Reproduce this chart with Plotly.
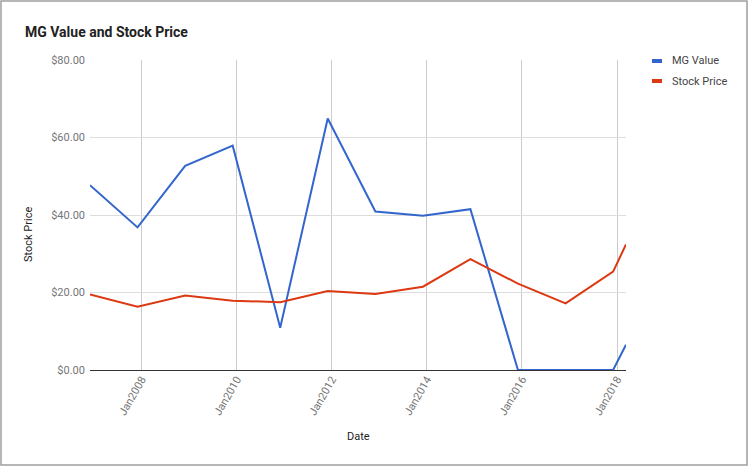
import plotly.graph_objects as go

dates = ["2006-12-01", "2007-12-01", "2008-12-01", "2009-12-01", "2010-12-01",
         "2011-12-01", "2012-12-01", "2013-12-01", "2014-12-01", "2015-12-01",
         "2016-12-01", "2017-12-01", "2018-03-10"]
mg_value = [47.7, 36.8, 52.7, 57.9, 10.9, 64.9, 40.9, 39.8, 41.5, 0, 0, 0, 6.5]
stock_price = [19.5, 16.3, 19.2, 17.9, 17.5, 20.4, 19.6, 21.5, 28.6, 22.3, 17.2, 25.4, 32.4]
series_names = ["MG Value", "Stock Price"]
colors = ["#3366cc", "#dc3912"]
y_ticks = [0, 20, 40, 60, 80]
y_tick_labels = ["$0.00", "$20.00", "$40.00", "$60.00", "$80.00"]

W, H = 750, 469
L, R, T, B = 90, 626, 60, 370
FONT = "Roboto"

def px_x(px):
    return (px - L) / (R - L)

def px_y(py):
    return (B - py) / (B - T)

fig = go.Figure()
for name, vals, c in zip(series_names, [mg_value, stock_price], colors):
    fig.add_trace(go.Scatter(x=dates, y=vals, mode="lines", name=name,
                             line=dict(color=c, width=2), showlegend=False,
                             cliponaxis=False))

fig.update_layout(
    width=W, height=H,
    margin=dict(l=L, r=W - R, t=T, b=H - B),
    paper_bgcolor="white", plot_bgcolor="white",
    font=dict(family=FONT, size=11, color="#757575"),
    title=dict(text="<b>MG Value and Stock Price</b>", x=25 / W, xref="container",
               xanchor="left", y=1 - 32 / H, yref="container", yanchor="middle",
               font=dict(family=FONT, size=14, color="#222222")),
    xaxis=dict(range=["2006-12-01", "2018-03-10"], tick0="2008-01-01", dtick="M24",
               tickformat="%b%Y", tickangle=-60, showgrid=True, gridcolor="#cccccc",
               gridwidth=1, zeroline=False, showline=False, ticks="",
               layer="below traces",
               tickfont=dict(family=FONT, size=11, color="#757575")),
    yaxis=dict(range=[0, 80], tickvals=y_ticks, ticktext=y_tick_labels,
               showgrid=True, gridcolor="#dddddd", gridwidth=1,
               zeroline=True, zerolinecolor="#333333", zerolinewidth=1,
               showline=False, ticks="", ticklabelstandoff=4,
               layer="below traces",
               tickfont=dict(family=FONT, size=11, color="#757575")),
    showlegend=False,
)

annotations = [
    dict(text="Stock Price", x=px_x(29), y=px_y(235), xref="paper", yref="paper",
         textangle=-90, showarrow=False, xanchor="center", yanchor="middle",
         font=dict(family=FONT, size=11, color="#222222")),
    dict(text="Date", x=px_x(358), y=px_y(436), xref="paper", yref="paper",
         showarrow=False, xanchor="center", yanchor="middle",
         font=dict(family=FONT, size=11, color="#222222")),
]
shapes = [
    dict(type="rect", xref="paper", yref="paper", x0=px_x(1), x1=px_x(747),
         y0=px_y(465), y1=px_y(1), line=dict(color="#9e9e9e", width=1.5),
         fillcolor="rgba(0,0,0,0)", layer="below"),
]
for i, (name, c) in enumerate(zip(series_names, colors)):
    py = 61 + 20 * i
    shapes.append(dict(type="line", xref="paper", yref="paper", x0=px_x(652), x1=px_x(662),
                       y0=px_y(py), y1=px_y(py), line=dict(color=c, width=4)))
    annotations.append(dict(text=name, x=px_x(670), y=px_y(py), xref="paper", yref="paper",
                            showarrow=False, xanchor="left", yanchor="middle",
                            font=dict(family=FONT, size=11, color="#444444")))
fig.update_layout(annotations=annotations, shapes=shapes)

fig.write_html("out.html", config={"displayModeBar": False},
               post_script="document.body.style.margin='0';document.body.style.overflow='hidden';")
